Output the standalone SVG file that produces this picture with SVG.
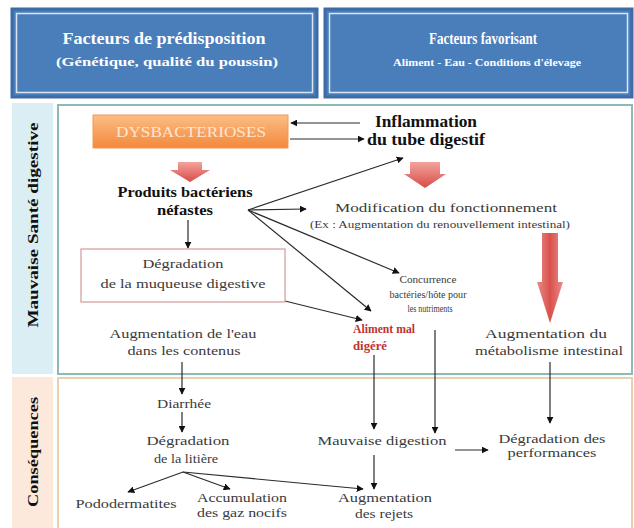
<svg xmlns="http://www.w3.org/2000/svg" width="634" height="528" viewBox="0 0 634 528" font-family="Liberation Serif, DejaVu Serif, serif">
<defs>
<style>
text{font-family:'Liberation Serif','DejaVu Serif','Noto Serif',serif}
.t{fill:#3a3a3a;text-anchor:middle}
.b{font-weight:bold;fill:#111}
.h{font-weight:bold;fill:#ffffff;text-anchor:middle}
.c{stroke:#2b2b2b;stroke-width:1.2;fill:none;marker-end:url(#ah)}
</style>
<marker id="ah" viewBox="0 0 10 10" refX="9" refY="5" markerWidth="7" markerHeight="7" markerUnits="userSpaceOnUse" orient="auto">
<path d="M0,0 L10,5 L0,10 z" fill="#111"/>
</marker>
<linearGradient id="og" x1="0" y1="0" x2="0" y2="1">
<stop offset="0" stop-color="#fbbd86"/>
<stop offset="1" stop-color="#f3893a"/>
</linearGradient>
<linearGradient id="rg" x1="0" y1="0" x2="0" y2="1">
<stop offset="0" stop-color="#f3a39c"/>
<stop offset="1" stop-color="#d84c47"/>
</linearGradient>
<linearGradient id="rg2" x1="0" y1="0" x2="1" y2="0">
<stop offset="0" stop-color="#e98c88"/>
<stop offset="0.5" stop-color="#d9504c"/>
<stop offset="1" stop-color="#e98c88"/>
</linearGradient>
</defs>
<rect width="634" height="528" fill="#ffffff"/>

<g id="header-left">
<rect x="12" y="9" width="305" height="88" fill="#4a7ebb" stroke="#3d6ba6" stroke-width="3"/>
<rect x="16.5" y="13.5" width="296" height="79" fill="none" stroke="#dce6f2" stroke-width="1.5"/>
<text class="h" x="164" y="44" font-size="16" textLength="203" lengthAdjust="spacingAndGlyphs">Facteurs de prédisposition</text>
<text class="h" x="167" y="66" font-size="12" textLength="222" lengthAdjust="spacingAndGlyphs">(Génétique, qualité du poussin)</text>
</g>
<g id="header-right">
<rect x="325" y="9" width="307" height="88" fill="#4a7ebb" stroke="#3d6ba6" stroke-width="3"/>
<rect x="329.5" y="13.5" width="298" height="79" fill="none" stroke="#dce6f2" stroke-width="1.5"/>
<text class="h" x="483" y="44" font-size="16" textLength="108" lengthAdjust="spacingAndGlyphs">Facteurs favorisant</text>
<text class="h" x="487" y="66" font-size="11" textLength="188" lengthAdjust="spacingAndGlyphs">Aliment - Eau - Conditions d'élevage</text>
</g>

<g id="band-sante">
<rect x="12" y="103" width="41" height="271" fill="#dbeef4"/>
<text class="t b" transform="translate(38,225) rotate(-90)" font-size="15" textLength="205" lengthAdjust="spacingAndGlyphs">Mauvaise Santé digestive</text>
</g>
<g id="band-consequences">
<rect x="12" y="377" width="41" height="151" fill="#fde9dc"/>
<text class="t b" transform="translate(38,452) rotate(-90)" font-size="15" textLength="110" lengthAdjust="spacingAndGlyphs">Conséquences</text>
</g>
<g id="panel-top">
<rect x="58" y="105" width="574" height="269" fill="#ffffff" stroke="#8fb8b8" stroke-width="2"/>
</g>
<g id="panel-bottom">
<rect x="58" y="378" width="574" height="152" fill="#ffffff" stroke="#e8cfae" stroke-width="2"/>
</g>

<g id="connectors">
<line class="c" x1="360" y1="123" x2="291" y2="123"/>
<line class="c" x1="290" y1="139" x2="364" y2="139"/>
<line class="c" x1="248" y1="210" x2="403" y2="158"/>
<line class="c" x1="248" y1="210" x2="306" y2="209"/>
<line class="c" x1="248" y1="210" x2="399" y2="273"/>
<line class="c" x1="248" y1="210" x2="371" y2="311"/>
<line class="c" x1="285" y1="301" x2="362" y2="320"/>
<line class="c" x1="188" y1="220" x2="188" y2="248"/>
<line class="c" x1="182" y1="362" x2="182" y2="394"/>
<line class="c" x1="182" y1="412" x2="182" y2="432"/>
<line class="c" x1="183" y1="472" x2="128" y2="492"/>
<line class="c" x1="183" y1="472" x2="230" y2="489"/>
<polyline class="c" points="183,472 320,485 363,489"/>
<line class="c" x1="374" y1="355" x2="374" y2="429"/>
<line class="c" x1="435" y1="330" x2="435" y2="433"/>
<line class="c" x1="550" y1="362" x2="550" y2="423"/>
<line class="c" x1="455" y1="450" x2="488" y2="450"/>
<line class="c" x1="374" y1="455" x2="374" y2="489"/>
</g>

<g id="dysbacterioses">
<rect x="93" y="115" width="195" height="33" fill="url(#og)" stroke="#f19a55" stroke-width="1"/>
<text class="t" x="191" y="137" font-size="15" style="fill:#fde6d2" textLength="150" lengthAdjust="spacingAndGlyphs">DYSBACTERIOSES</text>
</g>
<g id="arrow-dys">
<path d="M178,162 H202 V170 H210 L190,182 L170,170 H178 Z" fill="url(#rg)"/>
</g>
<g id="inflammation">
<text class="t b" x="426" y="127" font-size="17" textLength="102" lengthAdjust="spacingAndGlyphs">Inflammation</text>
<text class="t b" x="426" y="145" font-size="17" textLength="118" lengthAdjust="spacingAndGlyphs">du tube digestif</text>
</g>
<g id="arrow-inflam">
<path d="M410,162 H440 V174 H446 L425,188 L404,174 H410 Z" fill="url(#rg)"/>
</g>
<g id="produits">
<text class="t b" x="185" y="197" font-size="14" textLength="135" lengthAdjust="spacingAndGlyphs">Produits bactériens</text>
<text class="t b" x="185" y="215" font-size="14" textLength="56" lengthAdjust="spacingAndGlyphs">néfastes</text>
</g>
<g id="modification">
<text class="t" x="446" y="212" font-size="13" textLength="222" lengthAdjust="spacingAndGlyphs">Modification du fonctionnement</text>
<text class="t" x="440" y="228" font-size="10" textLength="260" lengthAdjust="spacingAndGlyphs">(Ex : Augmentation du renouvellement intestinal)</text>
</g>
<g id="degradation-muqueuse">
<rect x="81" y="249" width="204" height="53" fill="#ffffff" stroke="#d49a9a" stroke-width="1.2"/>
<text class="t" x="183" y="268" font-size="13" textLength="81" lengthAdjust="spacingAndGlyphs">Dégradation</text>
<text class="t" x="183" y="288" font-size="13" textLength="165" lengthAdjust="spacingAndGlyphs">de la muqueuse digestive</text>
</g>
<g id="concurrence">
<text class="t" x="428" y="283" font-size="10" textLength="57" lengthAdjust="spacingAndGlyphs">Concurrence</text>
<text class="t" x="428" y="298" font-size="10" textLength="77" lengthAdjust="spacingAndGlyphs">bactéries/hôte pour</text>
<text class="t" x="430" y="312" font-size="10" textLength="45" lengthAdjust="spacingAndGlyphs">les nutriments</text>
</g>
<g id="aliment">
<text class="t" x="384" y="333" font-size="13" font-weight="bold" style="fill:#c0322e" textLength="62" lengthAdjust="spacingAndGlyphs">Aliment mal</text>
<text class="t" x="370" y="350" font-size="13" font-weight="bold" style="fill:#c0322e" textLength="34" lengthAdjust="spacingAndGlyphs">digéré</text>
</g>
<g id="augmentation-eau">
<text class="t" x="183" y="338" font-size="13" textLength="147" lengthAdjust="spacingAndGlyphs">Augmentation de l'eau</text>
<text class="t" x="184" y="355" font-size="13" textLength="113" lengthAdjust="spacingAndGlyphs">dans les contenus</text>
</g>
<g id="arrow-big">
<path d="M542,233 H558 V282 H563 L550,323 L537,282 H542 Z" fill="url(#rg2)"/>
</g>
<g id="metabolisme">
<text class="t" x="546" y="338" font-size="13" textLength="122" lengthAdjust="spacingAndGlyphs">Augmentation du</text>
<text class="t" x="549" y="355" font-size="13" textLength="148" lengthAdjust="spacingAndGlyphs">métabolisme intestinal</text>
</g>
<g id="diarrhee">
<text class="t" x="184" y="408" font-size="12" textLength="54" lengthAdjust="spacingAndGlyphs">Diarrhée</text>
</g>
<g id="degradation-litiere">
<text class="t" x="188" y="445" font-size="13" textLength="83" lengthAdjust="spacingAndGlyphs">Dégradation</text>
<text class="t" x="186" y="463" font-size="13" textLength="64" lengthAdjust="spacingAndGlyphs">de la litière</text>
</g>
<g id="pododermatites">
<text class="t" x="126" y="508" font-size="12" textLength="101" lengthAdjust="spacingAndGlyphs">Pododermatites</text>
</g>
<g id="accumulation">
<text class="t" x="242" y="502" font-size="12" textLength="90" lengthAdjust="spacingAndGlyphs">Accumulation</text>
<text class="t" x="242" y="517" font-size="12" textLength="90" lengthAdjust="spacingAndGlyphs">des gaz nocifs</text>
</g>
<g id="mauvaise-digestion">
<text class="t" x="382" y="445" font-size="12" textLength="129" lengthAdjust="spacingAndGlyphs">Mauvaise digestion</text>
</g>
<g id="performances">
<text class="t" x="552" y="443" font-size="13" textLength="107" lengthAdjust="spacingAndGlyphs">Dégradation des</text>
<text class="t" x="552" y="457" font-size="13" textLength="89" lengthAdjust="spacingAndGlyphs">performances</text>
</g>
<g id="rejets">
<text class="t" x="385" y="502" font-size="13" textLength="94" lengthAdjust="spacingAndGlyphs">Augmentation</text>
<text class="t" x="384" y="518" font-size="13" textLength="58" lengthAdjust="spacingAndGlyphs">des rejets</text>
</g>
</svg>
